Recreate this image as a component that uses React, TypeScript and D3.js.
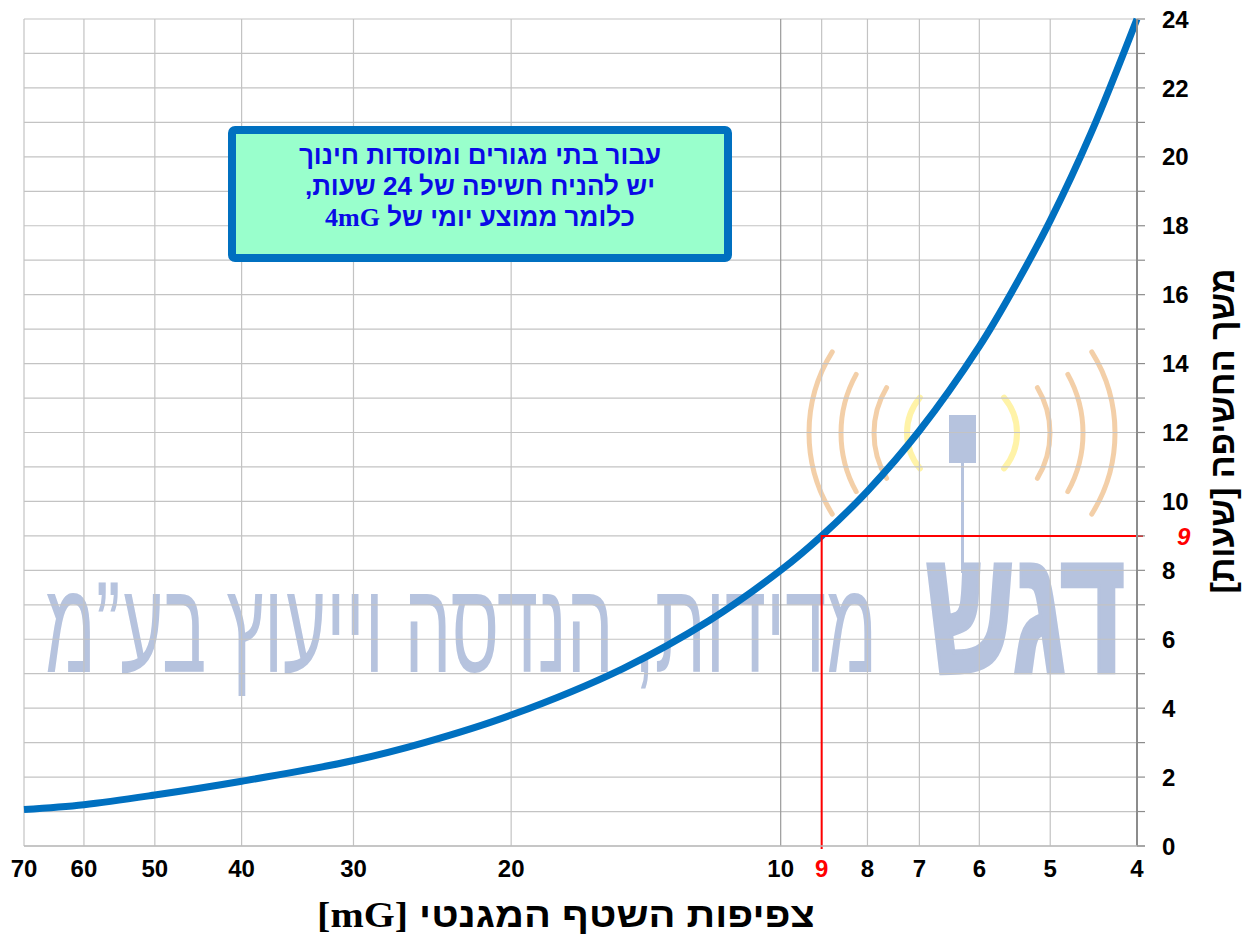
import * as d3 from 'd3';
import React, { useLayoutEffect, useRef, useState } from 'react';

const WIDTH = 1249;
const HEIGHT = 944;
const LEFT = 24;
const RIGHT = 1137;
const TOP = 19;
const BOTTOM = 846;

// magnetic flux density [mG] vs exposure duration [hours]
const fieldMG = [70, 60, 50, 40, 30, 25, 20, 15, 12, 10, 9, 8, 7, 6, 5.5, 5, 4.5, 4];
const exposureHours = [1.06, 1.2, 1.48, 1.88, 2.48, 3.0, 3.8, 5.15, 6.55, 8.0, 9.0, 10.3, 12.05, 14.5, 16.15, 18.15, 20.7, 24];

const xTickValues = [70, 60, 50, 40, 30, 20, 10, 9, 8, 7, 6, 5, 4];
const yLabelValues = [0, 2, 4, 6, 8, 10, 12, 14, 16, 18, 20, 22, 24];
const yGridValues = d3.range(0, 25);

const markerMG = 9;
const markerHours = 9;

const boxLines = ['עבור בתי מגורים ומוסדות חינוך', 'יש להניח חשיפה של 24 שעות,', 'כלומר ממוצע יומי של '];
const boxUnit = '4mG';
const xTitle = 'צפיפות השטף המגנטי ';
const xTitleUnit = '[mG]';
const yTitle = 'משך החשיפה [שעות]';

const SANS = "'Liberation Sans', Arial, 'DejaVu Sans', sans-serif";
const SERIF = "'Liberation Serif', 'Times New Roman', serif";
const WM = '#b6c3de';

// text scaled horizontally to a given width
const FitText = ({ x, y, width, children, ...rest }: any) => {
  const ref = useRef<SVGTextElement>(null);
  const [k, setK] = useState(1);
  useLayoutEffect(() => {
    if (!ref.current) return;
    const w = ref.current.getComputedTextLength();
    if (w > 0) setK(width / w);
  }, [width]);
  return (
    <text ref={ref} transform={`translate(${x},${y}) scale(${k},1)`} textAnchor="middle" {...rest}>
      {children}
    </text>
  );
};

const App = () => {
  const x = d3.scaleLog().domain([70, 4]).range([LEFT, RIGHT]);
  const y = d3.scaleLinear().domain([0, 24]).range([BOTTOM, TOP]);

  const line = d3
    .line<number>()
    .x((d) => x(d))
    .y((_, i) => y(exposureHours[i]))
    .curve(d3.curveCatmullRom.alpha(0.5));

  // watermark logo arcs, centred over the antenna
  const cx = 962;
  const cy = 433;
  const arc = (r: number, a: number, side: number) => {
    const a0 = (Math.PI / 180) * a;
    const x0 = cx + side * r * Math.cos(a0);
    const y0 = cy - r * Math.sin(a0);
    const y1 = cy + r * Math.sin(a0);
    return `M${x0},${y0} A${r},${r} 0 0 ${side < 0 ? 0 : 1} ${x0},${y1}`;
  };

  return (
    <svg width={WIDTH} height={HEIGHT} style={{ position: 'absolute', left: 0, top: 0, background: '#fff' }}>
      {/* watermark */}
      <g fill={WM}>
        {[
          { r: 55, a: 40, c: '#fff3a8', w: 6 },
          { r: 88, a: 31, c: '#f3cfa8', w: 5 },
          { r: 121, a: 29, c: '#f3cfa8', w: 5 },
          { r: 153, a: 32, c: '#f3cfa8', w: 5 },
        ].map((d) =>
          [-1, 1].map((s) => (
            <path key={`${d.r}${s}`} d={arc(d.r, d.a, s)} fill="none" stroke={d.c} strokeWidth={d.w} strokeLinecap="round" />
          )),
        )}
        <rect x={949} y={415} width={27} height={48} />
        <rect x={961} y={463} width={3} height={110} />
        <FitText x={1025} y={672} width={200} fontFamily={SANS} fontWeight="bold" fontSize={176} stroke={WM} strokeWidth={5}>
          דגש
        </FitText>
        <FitText x={461} y={672} width={832} fontFamily={SANS} fontSize={130}>
          מדידות, הנדסה וייעוץ בע”מ
        </FitText>
      </g>

      {/* grid */}
      <g stroke="#c3c3c3" strokeWidth={1.2}>
        {yGridValues.map((v) => (
          <line key={`h${v}`} x1={LEFT} x2={RIGHT} y1={y(v)} y2={y(v)} />
        ))}
        {xTickValues.map((v) => (
          <line key={`v${v}`} x1={x(v)} x2={x(v)} y1={TOP} y2={BOTTOM} stroke={v === 10 ? '#9a9a9a' : '#c3c3c3'} />
        ))}
      </g>

      {/* annotation box */}
      <rect x={232} y={130} width={496} height={128} rx={3} fill="#99ffcc" stroke="#0070c0" strokeWidth={8} />
      <g fontFamily={SANS} fontWeight="bold" fontSize={26} fill="#0a0ae6" textAnchor="middle" direction="rtl">
        {boxLines.map((t, i) => (
          <text key={i} x={480} y={164 + i * 31}>
            {t}
            {i === 2 && (
              <tspan fontFamily={SERIF} fontSize={26}>
                {boxUnit}
              </tspan>
            )}
          </text>
        ))}
      </g>

      {/* curve */}
      <path d={line(fieldMG) ?? ''} fill="none" stroke="#0070c0" strokeWidth={7} />

      {/* marker lines */}
      <g stroke="#ff0000" strokeWidth={2} fill="none">
        <path d={`M${x(markerMG)},${y(0) + 3} V${y(markerHours)} H${RIGHT + 6}`} />
      </g>

      {/* axes */}
      <line x1={RIGHT} x2={RIGHT} y1={TOP} y2={BOTTOM} stroke="#8c8c8c" strokeWidth={2} />
      <line x1={LEFT} x2={RIGHT + 8} y1={BOTTOM} y2={BOTTOM} stroke="#bdbdbd" strokeWidth={1.5} />
      <g stroke="#8c8c8c" strokeWidth={1.2}>
        {yGridValues.map((v) => (
          <line key={`t${v}`} x1={RIGHT} x2={RIGHT + 8} y1={y(v)} y2={y(v)} />
        ))}
      </g>

      <g fontFamily={SANS} fontWeight="bold" fontSize={24} fill="#000">
        {yLabelValues.map((v) => (
          <text key={`yl${v}`} x={1162} y={y(v)} dy="0.36em">
            {v}
          </text>
        ))}
        {xTickValues.map((v) => (
          <text key={`xl${v}`} x={x(v)} y={877} textAnchor="middle" fill={v === markerMG ? '#ff0000' : '#000'}>
            {v}
          </text>
        ))}
        <text x={1177} y={y(markerHours)} dy="0.36em" fill="#ff0000" fontStyle="italic">
          {markerHours}
        </text>
      </g>

      {/* titles */}
      <FitText x={566} y={927} width={498} direction="rtl" fontFamily={SANS} fontWeight="bold" fontSize={35}>
        {xTitle}
        <tspan fontFamily={SERIF} fontSize={35}>
          {xTitleUnit}
        </tspan>
      </FitText>
      <text
        transform={`translate(1234, 431) rotate(-90)`}
        textAnchor="middle"
        direction="rtl"
        fontFamily={SANS}
        fontWeight="bold"
        fontSize={34}
      >
        {yTitle}
      </text>
    </svg>
  );
};

export default App;
